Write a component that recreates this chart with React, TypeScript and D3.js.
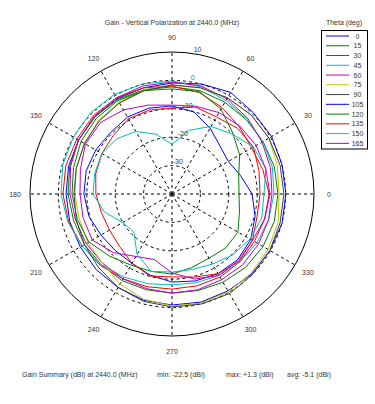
import React from 'react';
import * as d3 from 'd3';

const PHI = [0, 15, 30, 45, 60, 75, 90, 105, 120, 135, 150, 165, 180, 195, 210, 225, 240, 255, 270, 285, 300, 315, 330, 345];
const THETAS = ['0', '15', '30', '45', '60', '75', '90', '105', '120', '135', '150', '165'];
const COLORS = ['#0000ff', '#008000', '#ff0000', '#00bfbf', '#bf00bf', '#bfbf00', '#404040', '#0000ff', '#008000', '#ff0000', '#00bfbf', '#bf00bf'];

const T0 = [0.1, 0.1, 0.5, 0.5, 1.3, 0.1, -0.9, -1.3, -1.3, -1.6, -2.0, -2.3, -2.7, -2.7, -2.7, -2.3, -2.0, -1.3, -0.9, -0.6, -0.6, -0.2, -0.2, 0.1];
const T15 = [-2.7, -2.7, -3.0, -3.0, -2.7, -2.3, -2.3, -2.0, -1.6, -1.6, -2.0, -2.7, -3.4, -4.1, -4.4, -4.8, -4.8, -5.1, -5.1, -4.8, -4.1, -3.4, -3.0, -2.7];
const T30 = [-5.8, -6.9, -7.6, -6.5, -4.8, -3.0, -2.0, -1.3, -0.9, -0.9, -1.3, -1.3, -1.6, -2.3, -3.4, -4.4, -5.5, -6.2, -6.5, -6.5, -6.2, -6.2, -6.5, -6.2];
const T45 = [-4.1, -3.4, -3.0, -2.7, -2.0, -0.9, -0.2, 0.1, 0.5, 0.5, 0.1, -0.2, -0.9, -2.0, -3.4, -4.8, -6.2, -7.3, -8.0, -7.6, -6.9, -6.2, -5.5, -4.8];
const T60 = [-4.8, -4.1, -3.4, -2.3, -1.3, -0.6, -0.6, -0.6, -0.9, -1.3, -2.0, -3.0, -4.1, -4.8, -5.1, -5.5, -5.5, -5.5, -5.1, -5.1, -5.1, -4.8, -4.8, -4.8];
const T75 = [-2.3, -1.6, -0.6, -0.6, -0.9, -1.3, -1.6, -2.0, -2.7, -3.4, -4.4, -5.1, -5.8, -6.2, -5.8, -5.5, -3.4, -1.6, -0.6, -0.2, -0.2, -0.6, -0.9, -1.3];
const T90 = [-0.6, -0.6, -0.6, -0.6, -0.9, -1.3, -1.6, -2.3, -3.0, -3.7, -4.4, -5.1, -5.5, -5.1, -4.4, -3.4, -2.0, -0.9, -0.2, 0.1, 0.5, 0.1, -0.2, -0.6];
const T105 = [-11.8, -15.0, -17.1, -16.1, -13.2, -10.1, -9.0, -8.7, -8.7, -9.4, -9.0, -8.7, -9.0, -9.7, -11.1, -11.8, -11.8, -10.4, -9.0, -8.3, -7.6, -7.3, -8.0, -9.7];
const T120 = [-16.4, -15.7, -12.5, -9.7, -5.5, -2.7, -3.0, -2.3, -2.0, -2.3, -3.0, -4.1, -4.8, -5.5, -6.2, -9.0, -11.1, -11.8, -11.8, -13.2, -13.9, -13.2, -13.2, -15.4];
const T135 = [-9.0, -8.3, -6.9, -7.3, -8.7, -8.3, -9.7, -9.4, -9.4, -10.8, -11.5, -12.2, -13.2, -14.3, -14.6, -13.9, -11.8, -10.1, -10.8, -9.7, -7.6, -6.5, -7.3, -9.0];
const T150 = [-7.6, -5.8, -6.9, -10.1, -12.5, -16.8, -22.5, -18.2, -14.6, -12.5, -11.5, -11.8, -12.2, -15.4, -19.9, -21.0, -15.4, -11.8, -12.5, -12.5, -11.5, -9.7, -8.3, -7.3];
const T165 = [-5.5, -5.8, -5.8, -6.2, -6.9, -8.0, -8.7, -7.6, -5.8, -4.4, -4.8, -6.6, -7.6, -7.6, -7.6, -10.8, -14.6, -16.1, -12.2, -9.0, -6.9, -6.9, -7.3, -6.2];

const SERIES = [T0, T15, T30, T45, T60, T75, T90, T105, T120, T135, T150, T165];
const RING_VALUES = [-30, -20, -10, 0];
const RING_LABELS = ['-30', '-20', '-10', '0', '10'];
const LABEL_VALUES = [-30, -20, -10, 0, 10];
const SPOKES = [0, 30, 60, 90, 120, 150, 180, 210, 240, 270, 300, 330];

const W = 375, H = 404;
const CX = 172, CY = 194, R = 142;
const FONT = 'Liberation Sans, Arial, sans-serif';
const TXT = '#333';

export default function App() {
  const r = d3.scaleLinear().domain([-40, 10]).range([0, R]);
  const line = d3.lineRadial<number>()
    .angle((_, i) => Math.PI / 2 - (PHI[i] * Math.PI) / 180)
    .radius((d) => r(d))
    .curve(d3.curveLinearClosed);

  const rad = (deg: number) => (deg * Math.PI) / 180;
  const labAng = rad(80);

  return (
    <svg width={W} height={H} style={{ position: 'absolute', left: 0, top: 0, background: '#fff' }} fontFamily={FONT}>
      <rect x={0} y={0} width={W} height={H} fill="#fff" />
      <text x={172} y={25} fontSize={7} textAnchor="middle" fill={TXT}>Gain  - Vertical Polarization at 2440.0 (MHz)</text>
      <g transform={`translate(${CX},${CY})`}>
        <circle r={R} fill="none" stroke="#000" strokeWidth={1} />
        {RING_VALUES.map((v) => (
          <circle key={v} r={r(v)} fill="none" stroke="#000" strokeWidth={1} strokeDasharray="3,3" />
        ))}
        {SPOKES.map((a) => (
          <line key={a} x1={0} y1={0} x2={R * Math.cos(rad(a))} y2={-R * Math.sin(rad(a))} stroke="#000" strokeWidth={1} strokeDasharray="3,3" />
        ))}
        {SPOKES.map((a) => (
          <text key={'l' + a} x={157 * Math.cos(rad(a))} y={-157 * Math.sin(rad(a))} fontSize={7} textAnchor="middle" dominantBaseline="central" fill={TXT}>{a}</text>
        ))}
        {SERIES.map((s, i) => (
          <path key={i} d={line(s) || ''} fill="none" stroke={COLORS[i]} strokeWidth={1} />
        ))}
        {LABEL_VALUES.map((v, i) => (
          <text key={'r' + v} x={(r(v) + 5) * Math.cos(labAng)} y={-(r(v) + 5) * Math.sin(labAng)} fontSize={7} textAnchor="middle" dominantBaseline="central" fill={i === 3 ? '#4a6a9a' : TXT}>{RING_LABELS[i]}</text>
        ))}
      </g>
      <text x={344} y={25} fontSize={7} textAnchor="middle" fill={TXT}>Theta  (deg)</text>
      <rect x={321.5} y={30.5} width={46} height={118.5} fill="#fff" stroke="#000" strokeWidth={1} />
      {THETAS.map((t, i) => {
        const y = 36 + i * 9.76;
        return (
          <g key={t}>
            <line x1={326} x2={349} y1={y} y2={y} stroke={COLORS[i]} strokeWidth={1} />
            <text x={357.5} y={y} fontSize={7} textAnchor="middle" dominantBaseline="central" fill={TXT}>{t}</text>
          </g>
        );
      })}
      <text x={22} y={377} fontSize={7} fill={TXT}>Gain Summary (dBi) at 2440.0 (MHz)</text>
      <text x={157} y={377} fontSize={7} fill={TXT}>min: -22.5 (dBi)</text>
      <text x={226} y={377} fontSize={7} fill={TXT}>max: +1.3 (dBi)</text>
      <text x={287} y={377} fontSize={7} fill={TXT}>avg: -5.1 (dBi)</text>
    </svg>
  );
}
